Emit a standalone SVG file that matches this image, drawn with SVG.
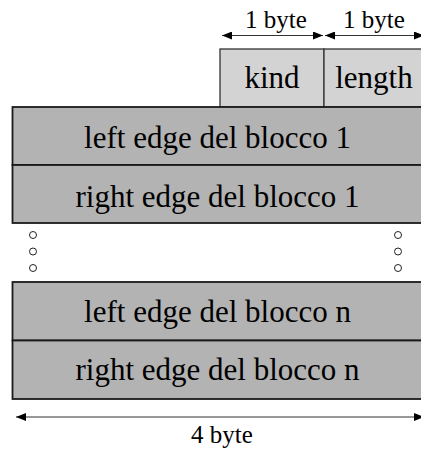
<svg xmlns="http://www.w3.org/2000/svg" width="421" height="450" viewBox="0 0 421 450">
<style>
.row{fill:#b3b3b3;stroke:#1a1a1a;stroke-width:1.8}
.hdr{fill:#d3d3d3;stroke:#333;stroke-width:1.3}
.t{font-family:"Liberation Serif","Times New Roman",serif;font-size:31px;fill:#000;text-anchor:middle}
.s{font-family:"Liberation Serif","Times New Roman",serif;font-size:25px;fill:#000;text-anchor:middle}
.dim{stroke:#333;stroke-width:1.2;fill:none}
.dot{fill:#fff;stroke:#222;stroke-width:1}
</style>
<defs>
<marker id="ah" viewBox="0 0 10 8" refX="10" refY="4" markerWidth="10" markerHeight="8" markerUnits="userSpaceOnUse" orient="auto-start-reverse">
<path d="M0,0 L10,4 L0,8 z" fill="#000"/>
</marker>
</defs>
<g id="kind"><rect class="hdr" x="220" y="49" width="104" height="58"/><text class="t" x="272" y="88">kind</text></g>
<g id="length"><rect class="hdr" x="324" y="49" width="100" height="58"/><text class="t" x="374" y="88">length</text></g>
<g id="left1"><rect class="row" x="12.5" y="107" width="412" height="58"/><text class="t" x="217.5" y="148">left edge del blocco 1</text></g>
<g id="right1"><rect class="row" x="12.5" y="165" width="412" height="58"/><text class="t" x="217.5" y="206.5">right edge del blocco 1</text></g>
<g id="dots">
<circle class="dot" cx="33" cy="235" r="3.5"/><circle class="dot" cx="33" cy="251.5" r="3.5"/><circle class="dot" cx="33" cy="268" r="3.5"/>
<circle class="dot" cx="398" cy="235" r="3.5"/><circle class="dot" cx="398" cy="251.5" r="3.5"/><circle class="dot" cx="398" cy="268" r="3.5"/>
</g>
<g id="leftn"><rect class="row" x="12.5" y="282" width="412" height="58.5"/><text class="t" x="217.5" y="321.5">left edge del blocco n</text></g>
<g id="rightn"><rect class="row" x="12.5" y="340.5" width="412" height="58.5"/><text class="t" x="217.5" y="380">right edge del blocco n</text></g>
<g id="connectors">
<line class="dim" x1="222" y1="35.5" x2="323" y2="35.5" marker-start="url(#ah)" marker-end="url(#ah)"/>
<line class="dim" x1="325" y1="35.5" x2="424" y2="35.5" marker-start="url(#ah)" marker-end="url(#ah)"/>
<line class="dim" x1="16" y1="417" x2="424" y2="417" marker-start="url(#ah)" marker-end="url(#ah)"/>
</g>
<text class="s" x="276" y="28">1 byte</text>
<text class="s" x="374" y="28">1 byte</text>
<text class="s" x="222" y="443">4 byte</text>
</svg>
